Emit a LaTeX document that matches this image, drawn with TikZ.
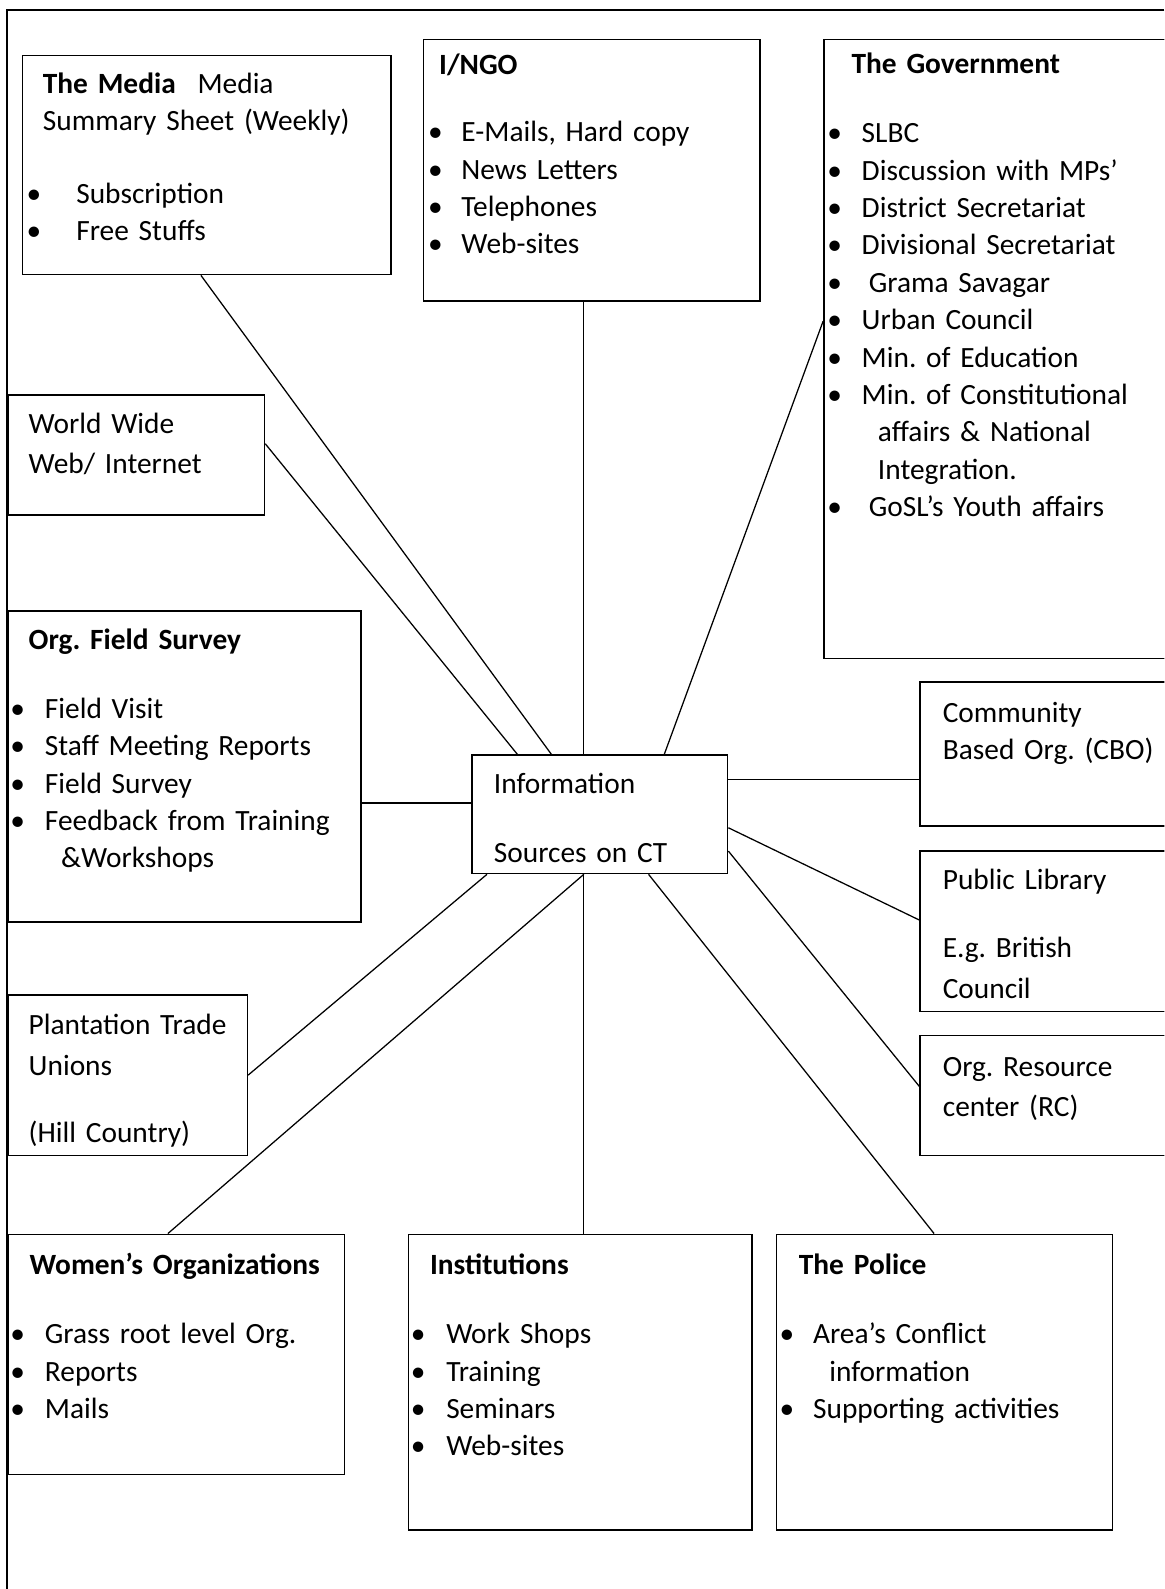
\documentclass[tikz,border=0pt]{standalone}
\usepackage{fontspec}
\setmainfont{Carlito}
\usetikzlibrary{fit}
\frenchspacing
\newcommand\bul[1]{\makebox[#1][l]{\textbullet}}

\begin{document}
\begin{tikzpicture}[
        x=0.2mm, y=-0.2mm,
        box/.style={draw, line width=0.3mm, inner sep=0pt},
        txt/.style={anchor=base west, inner sep=0pt, text width=80mm, align=left, font=\fontsize{16.5}{21}\selectfont},
        link/.style={line width=0.25mm}
    ]

    \useasboundingbox (0,0) rectangle (1149,1568);
    \clip (0,0) rectangle (1149,1568);

    % Page frame
    \draw[line width=0.3mm] (1149,10) -- (7,10) -- (7,1568);

    % Centre
    \node[box, fit={(466,745) (718,862)}] (info) {};
    \node[txt] (infotext) at (487,783) {Information\\[6.2mm]Sources on CT};

    % Top row
    \node[box, fit={(22,55) (386,271)}] (media) {};
    \node[txt] (mediatext) at (26,92) {\hspace*{3.2mm}\textbf{The Media}\hspace{4.3mm}Media\\
        \hspace*{3.2mm}Summary Sheet (Weekly)\\[7mm]
        \bul{9.8mm}Subscription\\
        \bul{9.8mm}Free Stuffs};

    \node[box, fit={(418,39) (750,297)}] (ingo) {};
    \node[txt] (ingotext) at (422,74) {\hspace*{2.2mm}\textbf{I/NGO}\\[5.8mm]
        \bul{6.6mm}E-Mails, Hard copy\\
        \bul{6.6mm}News Letters\\
        \bul{6.6mm}Telephones\\
        \bul{6.6mm}Web-sites};

    \node[box, fit={(813,39) (1160,650)}] (gov) {};
    \node[txt] (govtext) at (816,73) {\hspace*{4.8mm}\textbf{The Government}\\[6.2mm]
        \bul{6.8mm}SLBC\\
        \bul{6.8mm}Discussion with MPs’\\
        \bul{6.8mm}District Secretariat\\
        \bul{6.8mm}Divisional Secretariat\\
        \bul{8.2mm}Grama Savagar\\
        \bul{6.8mm}Urban Council\\
        \bul{6.8mm}Min. of Education\\
        \bul{6.8mm}Min. of Constitutional\\
        \hspace*{10mm}affairs \& National\\
        \hspace*{10mm}Integration.\\
        \bul{8.2mm}GoSL’s Youth affairs};

    % Left column
    \node[box, fit={(8,390) (261,508)}] (www) {};
    \node[txt] (wwwtext) at (28,428) {World Wide\\[0.4mm]Web/ Internet};

    \node[box, fit={(8,603) (356,910)}] (field) {};
    \node[txt] (fieldtext) at (10,641) {\hspace*{3.6mm}\textbf{Org. Field Survey}\\[6.2mm]
        \bul{6.8mm}Field Visit\\
        \bul{6.8mm}Staff Meeting Reports\\
        \bul{6.8mm}Field Survey\\
        \bul{6.8mm}Feedback from Training\\
        \hspace*{10mm}\&Workshops};

    \node[box, fit={(8,982) (244,1140)}] (plant) {};
    \node[txt] (planttext) at (28,1021) {Plantation Trade\\[0.6mm]Unions\\[6mm](Hill Country)};

    % Right column
    \node[box, fit={(908,673) (1160,815)}] (cbo) {};
    \node[txt] (cbotext) at (930,713) {Community\\Based Org. (CBO)};

    \node[box, fit={(908,840) (1160,998)}] (lib) {};
    \node[txt] (libtext) at (930,878) {Public Library\\[6mm]E.g. British\\[0.6mm]Council};

    \node[box, fit={(908,1022) (1160,1140)}] (rc) {};
    \node[txt] (rctext) at (930,1062) {Org. Resource\\[0.6mm]center (RC)};

    % Bottom row
    \node[box, fit={(8,1218) (340,1455)}] (women) {};
    \node[txt] (womentext) at (10,1258) {\hspace*{3.8mm}\textbf{Women’s Organizations}\\[6.2mm]
        \bul{6.8mm}Grass root level Org.\\
        \bul{6.8mm}Reports\\
        \bul{6.8mm}Mails};

    \node[box, fit={(403,1218) (742,1510)}] (inst) {};
    \node[txt] (insttext) at (405,1258) {\hspace*{3.8mm}\textbf{Institutions}\\[6.2mm]
        \bul{7mm}Work Shops\\
        \bul{7mm}Training\\
        \bul{7mm}Seminars\\
        \bul{7mm}Web-sites};

    \node[box, fit={(766,1218) (1098,1510)}] (police) {};
    \node[txt] (policetext) at (769,1258) {\hspace*{3.8mm}\textbf{The Police}\\[6.2mm]
        \bul{6.6mm}Area’s Conflict\\
        \hspace*{9.8mm}information\\
        \bul{6.6mm}Supporting activities};

    % Links to the centre
    \draw[link] (media.267) -- (info.129);
    \draw[link] (www.5) -- (info.144);
    \draw[link] (info.105 |- ingo.south) -- (info.105);
    \draw[link] (gov.171) -- (info.43);
    \draw[link] (info.175 -| field.east) -- (info.175);
    \draw[link] (info.15) -- (info.15 -| cbo.west);
    \draw[link] (info.354) -- (lib.175);
    \draw[link] (info.344) -- (rc.176);
    \draw[link] (plant.east) -- (info.208);
    \draw[link] (women.94) -- (info.255);
    \draw[link] (info.255) -- (info.255 |- inst.north);
    \draw[link] (info.309) -- (police.94);

\end{tikzpicture}
\end{document}
